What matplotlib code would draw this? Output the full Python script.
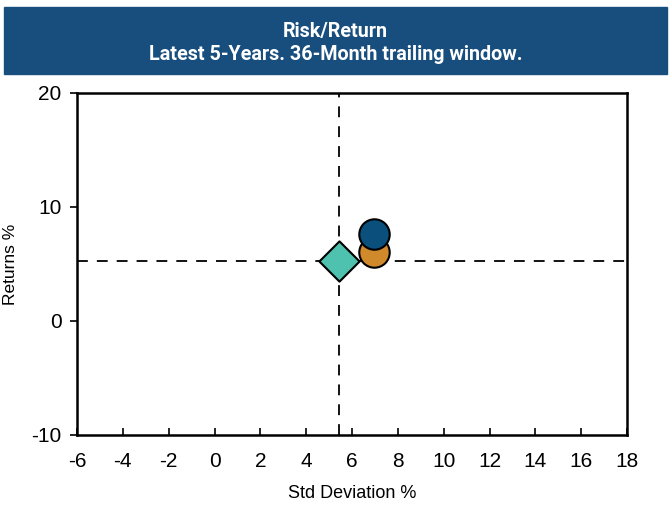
import matplotlib.pyplot as plt
from matplotlib.patches import Rectangle

plt.rcParams['axes.unicode_minus'] = False

# data
names = ['Portfolio', 'Benchmark', 'Median']
std_dev = [6.95, 6.95, 5.45]
returns = [7.6, 6.05, 5.25]
colors = ['#0B4F7D', '#D08A2C', '#4FC1AF']
markers = ['o', 'o', 'D']
sizes = [480, 480, 420]
layers = [4, 3, 3]
xticks = list(range(-6, 19, 2))
yticks = [-10, 0, 10, 20]
ref_x = 5.45
ref_y = 5.25

fig = plt.figure(figsize=(6.71, 5.07), dpi=100)

# header band
fig.patches.append(Rectangle((4 / 671, 1 - 74 / 507), 663 / 671, 67 / 507,
                             transform=fig.transFigure, color='#174E7E', zorder=0))
fig.text(0.5, 1 - 31 / 507, 'Risk/Return', ha='center', va='center',
         color='white', fontsize=14.2, fontweight='bold', family='Roboto')
fig.text(0.5, 1 - 54 / 507, 'Latest 5-Years. 36-Month trailing window.', ha='center',
         va='center', color='white', fontsize=14.2, fontweight='bold', family='Roboto')

ax = fig.add_axes([77 / 671, 1 - 435 / 507, 550 / 671, 342 / 507])
ax.axvline(ref_x, color='black', lw=1.3, ls=(0, (6, 5)), zorder=1)
ax.axhline(ref_y, color='black', lw=1.3, ls=(0, (6, 5)), zorder=1)

for i in range(len(names)):
    ax.scatter(std_dev[i], returns[i], s=sizes[i], c=colors[i], marker=markers[i],
               edgecolors='black', linewidths=1.5, zorder=layers[i])

ax.set_xlim(-6, 18)
ax.set_ylim(-10, 20)
ax.set_xticks(xticks)
ax.set_yticks(yticks)
ax.tick_params(axis='x', direction='in', length=5, width=1.2, labelsize=15, pad=12)
ax.tick_params(axis='y', direction='out', length=5, width=1.2, labelsize=15, pad=6)
for lab in ax.get_xticklabels() + ax.get_yticklabels():
    lab.set_family('Liberation Sans')
for sp in ax.spines.values():
    sp.set_linewidth(1.8)

ax.set_xlabel('Std Deviation %', fontsize=13, family='Liberation Sans', labelpad=10)
ax.set_ylabel('Returns %', fontsize=12.5, family='Liberation Sans', labelpad=10)

fig.savefig('out.png', dpi=100)
